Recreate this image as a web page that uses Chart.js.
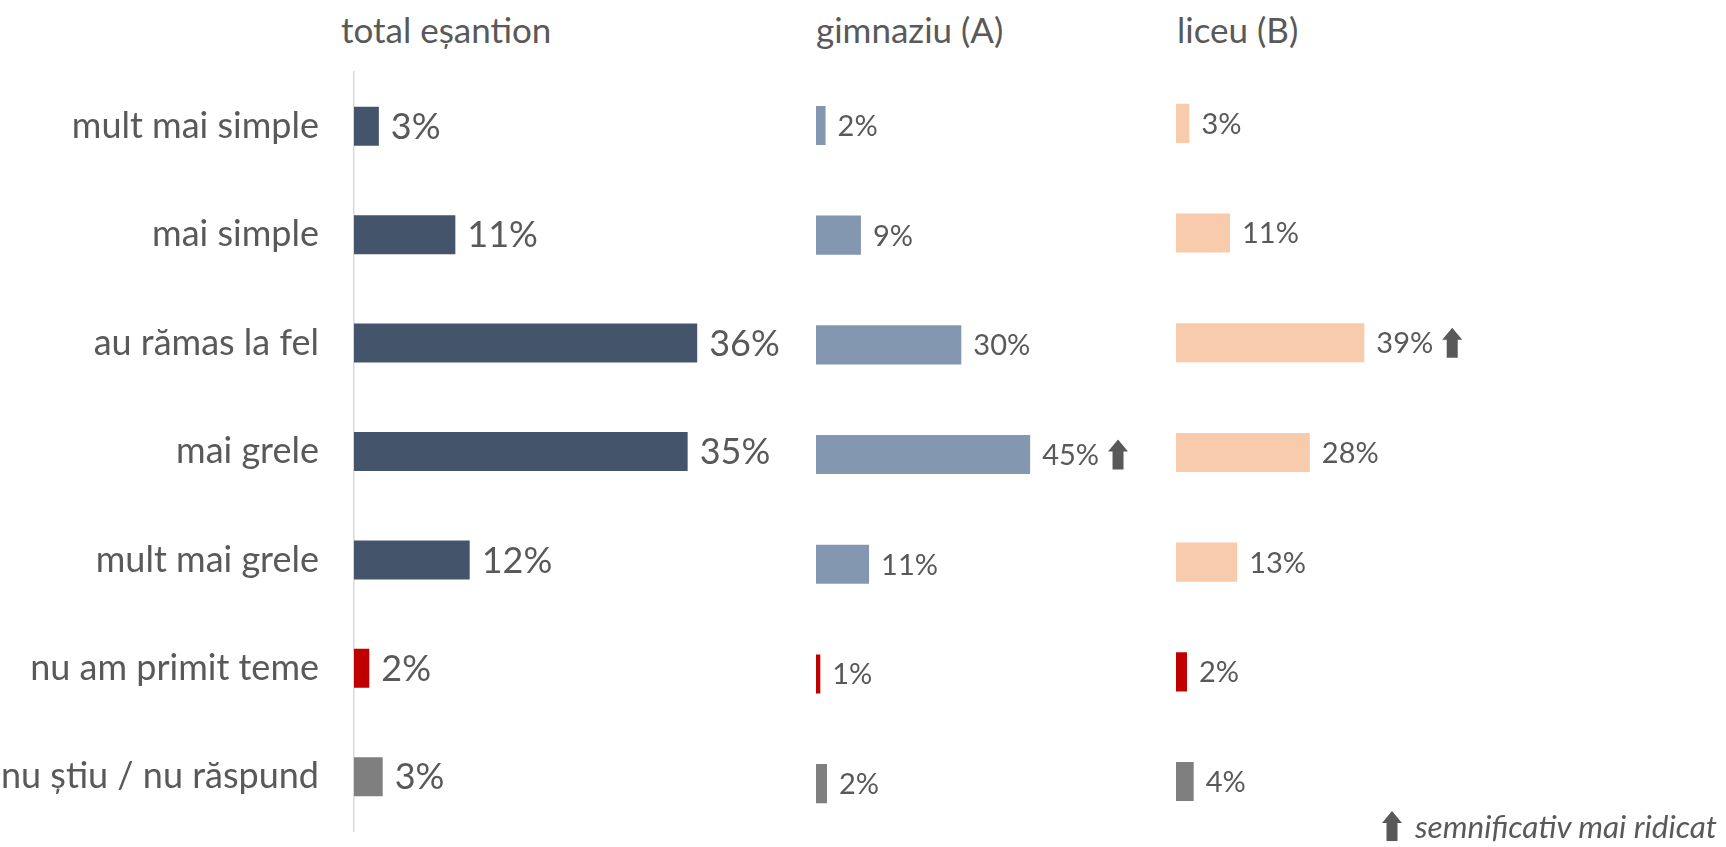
<!DOCTYPE html>
<html>
<head>
<meta charset="utf-8">
<script src="https://cdn.jsdelivr.net/npm/chart.js@4/dist/chart.umd.min.js"></script>
<style>
  body { margin: 0; background: #fff; width: 1726px; height: 847px; overflow: hidden; position: relative; font-family: Lato, sans-serif; color: #595959; }
  canvas { position: absolute; top: 0; }
  .title { position: absolute; top: 12px; font-size: 35px; line-height: 35px; white-space: nowrap; }
  #legend { position: absolute; left: 1382px; top: 810px; font-size: 31.5px; line-height: 32px; font-style: italic; white-space: nowrap; }
  #legend svg { vertical-align: -3px; margin-right: 13px; }
</style>
</head>
<body>
<div class="title" style="left:341px">total eșantion</div>
<div class="title" style="left:816px">gimnaziu (A)</div>
<div class="title" style="left:1177px">liceu (B)</div>

<canvas id="totalChart" width="820" height="847" style="left:0px"></canvas>
<canvas id="gimChart" width="340" height="847" style="left:816px"></canvas>
<canvas id="licChart" width="340" height="847" style="left:1176px"></canvas>

<div id="legend"><svg width="20" height="30" viewBox="0 0 20 30"><polygon points="10,0 20,12 15.5,12 15.5,30 4.5,30 4.5,12 0,12" fill="#595959"/></svg>semnificativ mai ridicat</div>

<script>
// data
const categories = ["mult mai simple", "mai simple", "au rămas la fel", "mai grele", "mult mai grele", "nu am primit teme", "nu știu / nu răspund"];
const totalValues = [2.6, 10.6, 35.9, 34.9, 12.1, 1.6, 3.0];
const gimnaziuValues = [2.0, 9.4, 30.4, 44.8, 11.1, 0.9, 2.3];
const liceuValues = [2.8, 11.3, 39.4, 28.0, 12.8, 2.3, 3.7];
// significantly higher markers
const gimnaziuHigher = [false, false, false, true, false, false, false];
const liceuHigher = [false, false, true, false, false, false, false];

const textColor = "#595959";
const red = "#C00000";
const grey = "#7F7F7F";

function barColors(base) {
  return categories.map((c, i) => i == 5 ? red : (i == 6 ? grey : base));
}

function drawArrow(ctx, x, cy) {
  const w = 20, h = 30, head = 12, sw = 11;
  const top = cy - h / 2;
  ctx.beginPath();
  ctx.moveTo(x + w / 2, top);
  ctx.lineTo(x + w, top + head);
  ctx.lineTo(x + w / 2 + sw / 2, top + head);
  ctx.lineTo(x + w / 2 + sw / 2, top + h);
  ctx.lineTo(x + w / 2 - sw / 2, top + h);
  ctx.lineTo(x + w / 2 - sw / 2, top + head);
  ctx.lineTo(x, top + head);
  ctx.closePath();
  ctx.fill();
}

// value labels + arrow at the end of each bar
const barLabels = {
  id: "barLabels",
  afterDatasetsDraw(chart, args, opts) {
    const ctx = chart.ctx;
    const meta = chart.getDatasetMeta(0);
    const values = chart.data.datasets[0].data;
    ctx.save();
    ctx.font = opts.size + "px Lato";
    ctx.fillStyle = textColor;
    ctx.textBaseline = "middle";
    meta.data.forEach((bar, i) => {
      const txt = Math.round(values[i]) + "%";
      const x = bar.x + opts.gap;
      ctx.fillText(txt, x, bar.y + 1);
      if (opts.flags && opts.flags[i]) {
        drawArrow(ctx, x + ctx.measureText(txt).width + 9, bar.y);
      }
    });
    ctx.restore();
  }
};

function makeChart(id, values, color, cfg) {
  const ctx = document.getElementById(id).getContext("2d");
  return new Chart(ctx, {
    type: "bar",
    data: {
      labels: categories,
      datasets: [{
        data: values,
        backgroundColor: barColors(color),
        barPercentage: cfg.barPct,
        categoryPercentage: 1
      }]
    },
    options: {
      indexAxis: "y",
      responsive: false,
      animation: false,
      layout: { padding: cfg.padding },
      scales: {
        x: { display: false, min: 0, max: cfg.max },
        y: {
          display: cfg.showLabels,
          grid: { display: false, drawTicks: false },
          border: { display: cfg.showLabels, color: "#D9D9D9", width: 1.5 },
          ticks: { color: textColor, padding: 35, font: { family: "Lato", size: 36 } },
          afterFit: scale => {
            if (!cfg.showLabels) return;
            scale.width = 354;
            scale.paddingTop = 0;
            scale.paddingBottom = 0;
          }
        }
      },
      plugins: {
        legend: { display: false },
        tooltip: { enabled: false },
        barLabels: { size: cfg.labelSize, gap: cfg.gap, flags: cfg.flags }
      }
    },
    plugins: [barLabels]
  });
}

makeChart("totalChart", totalValues, "#44546A", {
  max: 40, barPct: 0.36, showLabels: true, labelSize: 36, gap: 12,
  padding: { top: 72, bottom: 16, left: 0, right: 83.6 }
});

makeChart("gimChart", gimnaziuValues, "#8497B0", {
  max: 50, barPct: 0.356, showLabels: false, labelSize: 29, gap: 12, flags: gimnaziuHigher,
  padding: { top: 70.6, bottom: 8.5, left: 0, right: 101 }
});

makeChart("licChart", liceuValues, "#F8CBAD", {
  max: 50, barPct: 0.356, showLabels: false, labelSize: 29, gap: 12, flags: liceuHigher,
  padding: { top: 68.5, bottom: 10.6, left: 0, right: 101 }
});
</script>
</body>
</html>
